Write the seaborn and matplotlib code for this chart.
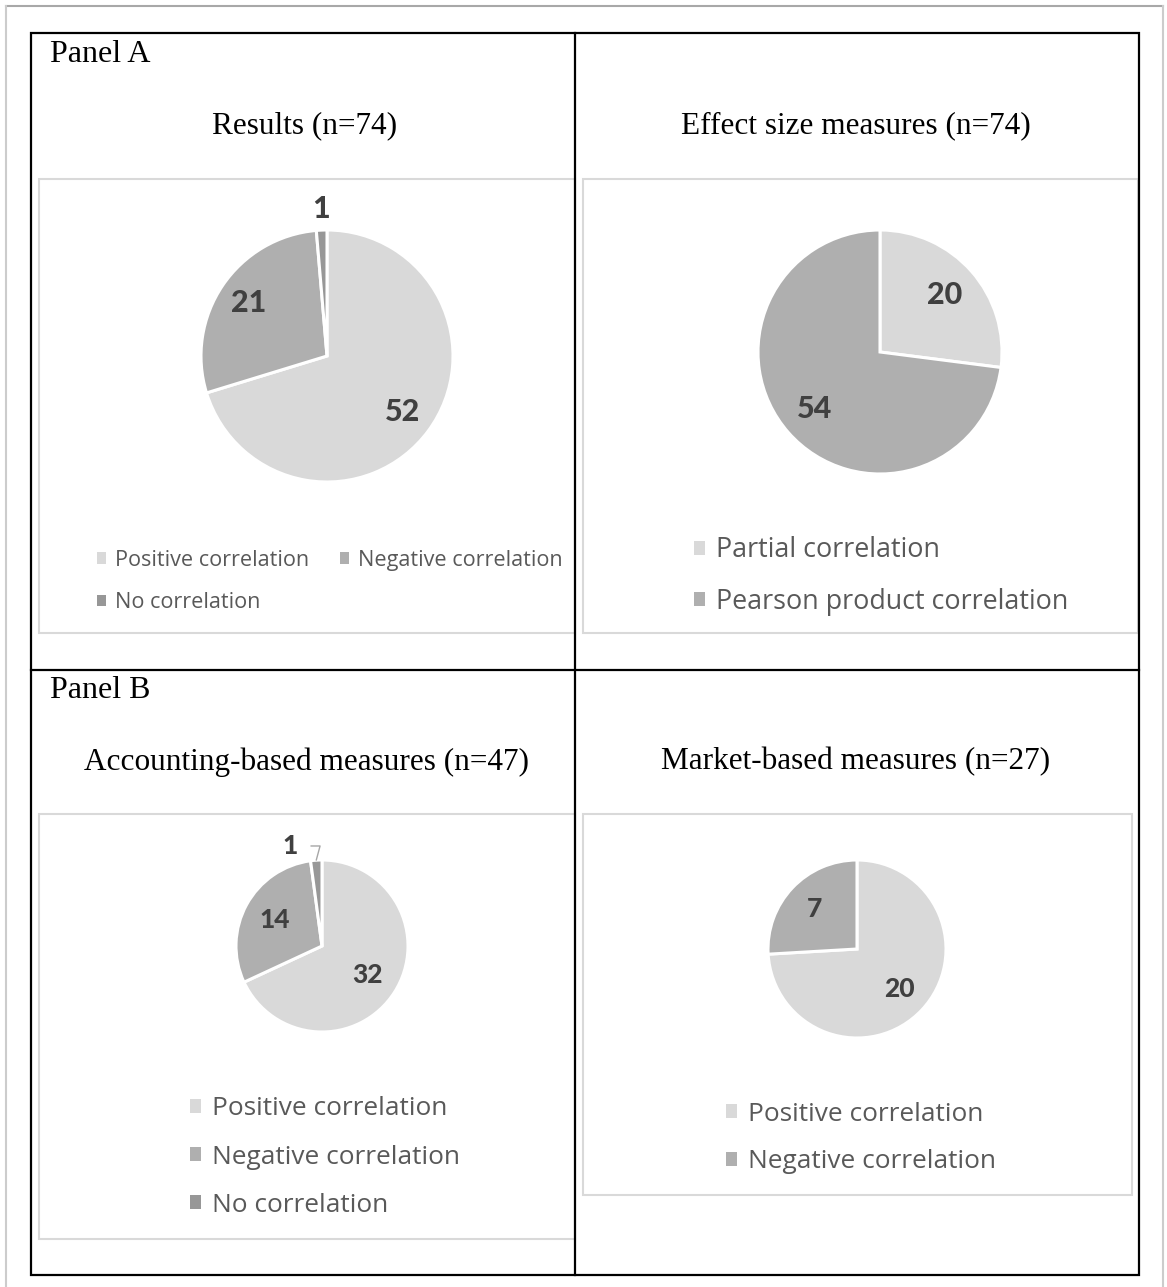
import numpy as np
import matplotlib
matplotlib.use("Agg")
import matplotlib.pyplot as plt
from matplotlib.patches import Rectangle, Patch
from matplotlib.lines import Line2D
import seaborn as sns

# data
results_labels = ['Positive correlation', 'Negative correlation', 'No correlation']
results_counts = [52, 21, 1]
effect_labels = ['Partial correlation', 'Pearson product correlation']
effect_counts = [20, 54]
accounting_labels = ['Positive correlation', 'Negative correlation', 'No correlation']
accounting_counts = [32, 14, 1]
market_labels = ['Positive correlation', 'Negative correlation']
market_counts = [20, 7]

sns.set_theme(style="white")
plt.rcParams['font.family'] = ['Open Sans', 'DejaVu Sans']

grays = ['#d9d9d9', '#afafaf', '#979797']
W, H = 1167, 1287
fig = plt.figure(figsize=(W / 100, H / 100), dpi=100)
fig.patch.set_facecolor('white')


def fx(x):
    return x / W


def fy(y):
    return 1 - y / H


def line(x0, y0, x1, y1, color, lw):
    fig.add_artist(Line2D([fx(x0), fx(x1)], [fy(y0), fy(y1)], transform=fig.transFigure,
                          color=color, lw=lw, solid_capstyle='projecting'))


def box(x0, y0, x1, y1, color, lw):
    fig.add_artist(Rectangle((fx(x0), fy(y1)), (x1 - x0) / W, (y1 - y0) / H,
                             transform=fig.transFigure, fill=False, ec=color, lw=lw))


# page border
line(6, 6, 1163, 6, '#a8a8a8', 1.5)
line(6, 6, 6, 1287, '#cccccc', 1.5)
line(1163, 6, 1163, 1287, '#cccccc', 1.5)

# chart area boxes
box(39, 179, 575, 633, '#d9d9d9', 1.5)
box(583, 179, 1138, 633, '#d9d9d9', 1.5)
box(39, 814, 575, 1239, '#d9d9d9', 1.5)
box(583, 814, 1132, 1195, '#d9d9d9', 1.5)

# table lines
box(31, 33, 1139, 1275, 'black', 1.6)
line(575, 33, 575, 1275, 'black', 1.6)
line(31, 670, 1139, 670, 'black', 1.6)

serif = dict(family='Liberation Serif', color='black')
fig.text(fx(50), fy(54), 'Panel A', ha='left', va='center', fontsize=23, **serif)
fig.text(fx(50), fy(690), 'Panel B', ha='left', va='center', fontsize=23, **serif)
fig.text(fx(305), fy(126), 'Results (n=74)', ha='center', va='center', fontsize=22.5, **serif)
fig.text(fx(856), fy(126), 'Effect size measures (n=74)', ha='center', va='center', fontsize=22.5, **serif)
fig.text(fx(306), fy(762), 'Accounting-based measures (n=47)', ha='center', va='center', fontsize=22.5, **serif)
fig.text(fx(856), fy(762), 'Market-based measures (n=27)', ha='center', va='center', fontsize=22.5, **serif)

num_font = ['Lato', 'DejaVu Sans']


def draw_pie(cx, cy, r, counts, dist, fs):
    ax = fig.add_axes([fx(cx - r), fy(cy + r), 2 * r / W, 2 * r / H])
    total = sum(counts)
    wedges, _, autotexts = ax.pie(
        counts, colors=grays[:len(counts)], startangle=90, counterclock=False,
        radius=1, pctdistance=dist,
        autopct=lambda p: f'{int(round(p * total / 100))}',
        wedgeprops=dict(edgecolor='white', linewidth=2.2),
        textprops=dict(fontsize=fs, fontweight='black', color='#404040', family=num_font))
    ax.set_xlim(-1, 1)
    ax.set_ylim(-1, 1)
    ax.set_aspect('auto')
    ax.axis('off')
    return ax, wedges, autotexts


def legend(labels, idx, x, y, ncol, fs, spacing, colsp=1.5, hsize=0.42):
    handles = [Patch(facecolor=grays[i], edgecolor='none') for i in idx]
    fig.legend(handles, [labels[i] for i in idx], loc='center left',
               bbox_to_anchor=(fx(x), fy(y)),
               ncol=ncol, frameon=False, fontsize=fs, labelcolor='#595959',
               handlelength=hsize, handleheight=hsize, handletextpad=0.4,
               labelspacing=spacing, columnspacing=colsp, borderpad=0, borderaxespad=0)


# Panel A: results
ax, wedges, texts = draw_pie(327, 356, 126, results_counts, 0.75, 22)
w = wedges[2]
ang = np.deg2rad((w.theta1 + w.theta2) / 2)
texts[2].set_position((1.17 * np.cos(ang), 1.17 * np.sin(ang)))
# column-major legend order so that rows read Positive, Negative / No
legend(results_labels, [0, 2, 1], 97, 581.5, 2, 15.6, 1.0, colsp=1.45)

# Panel A: effect size
ax, wedges, texts = draw_pie(880, 352, 122, effect_counts, 0.71, 22)
legend(effect_labels, [0, 1], 694, 576, 1, 19.4, 0.88)

# Panel B: accounting
ax, wedges, texts = draw_pie(322, 946, 86, accounting_counts, 0.63, 19)
w = wedges[2]
ang = np.deg2rad((w.theta1 + w.theta2) / 2)
texts[2].set_visible(False)
ax.annotate(texts[2].get_text(), xy=(1.0 * np.cos(ang), 1.0 * np.sin(ang)),
            xytext=(1.22 * np.cos(ang + 0.24), 1.22 * np.sin(ang + 0.24)),
            ha='center', va='center', fontsize=19, fontweight='black', color='#404040',
            family=num_font, annotation_clip=False,
            arrowprops=dict(arrowstyle='-', color='#a6a6a6', lw=1,
                            connectionstyle='angle,angleA=0,angleB=75,rad=0',
                            shrinkA=7, shrinkB=0))
legend(accounting_labels, [0, 1, 2], 190, 1157, 1, 18.9, 0.88)

# Panel B: market
ax, wedges, texts = draw_pie(857, 949, 89, market_counts, 0.66, 19)
legend(market_labels, [0, 1], 726, 1138, 1, 18.9, 0.87)

fig.savefig('out.png', dpi=100, facecolor='white')
